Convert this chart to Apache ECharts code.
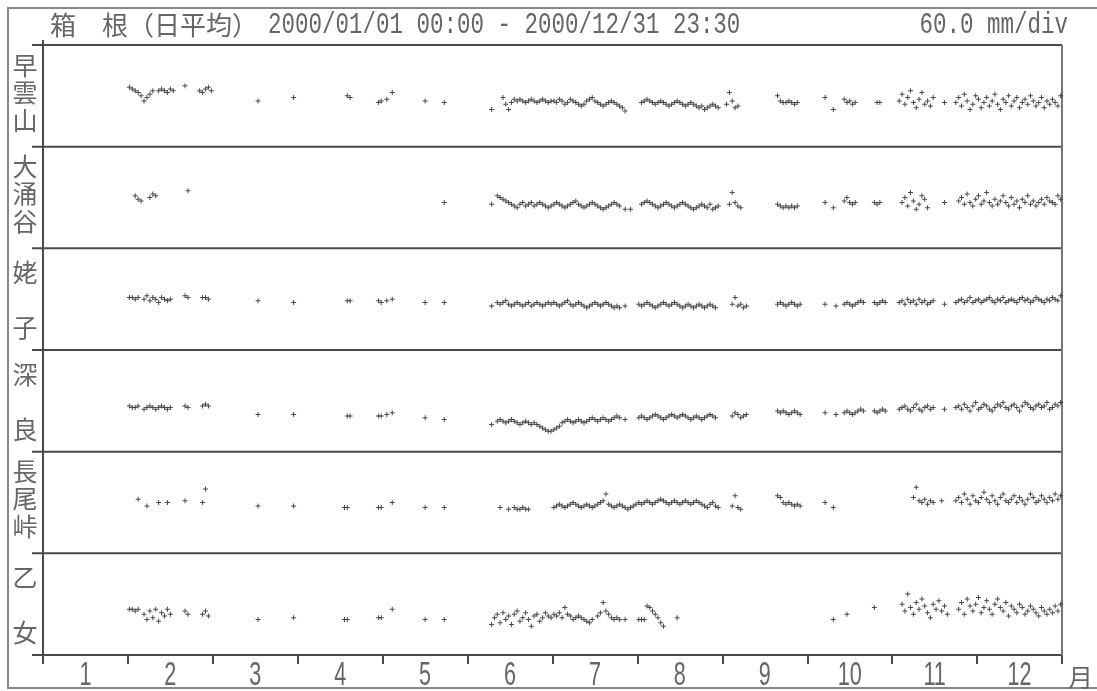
<!DOCTYPE html>
<html><head><meta charset="utf-8">
<script src="https://cdn.jsdelivr.net/npm/echarts@6/dist/echarts.min.js"></script>
<style>html,body{margin:0;padding:0;background:#fff}#c{width:1097px;height:691px}</style>
</head><body><div id="c"></div>
<script>
// ---- data ----
const monthLabels = ['1','2','3','4','5','6','7','8','9','10','11','12'];
const daysInMonth = [31,29,31,30,31,30,31,31,30,31,30,31];
const stationNames = [['早','雲','山'],['大','涌','谷'],['姥','','子'],['深','','良'],['長','尾','峠'],['乙','','女']];
const titleCJK = '箱　根（日平均）';
const titleRange = '2000/01/01 00:00 - 2000/12/31 23:30';
const unitText = '60.0 mm/div';
const axisUnit = '月';
// segments: [month, startDay, [consecutive daily values in mm]]
const sounzan = [
 [2,1,[35,34,33,32,30,27,29,31,33]],[2,11,[33,34,33,32,34,33]],[2,20,[36]],[2,25,[33,32,34,35,33]],
 [3,17,[27]],[3,30,[29]],[4,18,[30,29]],[4,29,[26,27]],[5,2,[28]],[5,4,[32]],[5,16,[27]],[5,23,[26]],
 [6,9,[22]],[6,13,[29,25,22,26,28,27,28,27,26,27,28,27,26,27,28,27,26,27]],
 [7,1,[27,26,28,27,25,26,28,27,26,25,24,25,27,28,29,27,26,25,24,25,26,27,26,25,24,23]],[7,27,[21]],
 [8,2,[26,27,28,27,26,25,26,27,26,25,24,25,26,27,26,25,24,25,26,25,24,23,24,22,23,24,25,24,23]],
 [9,2,[25,32,27,23,24]],[9,20,[30,27,26,26,27,26,25,26]],
 [10,7,[29]],[10,10,[22]],[10,14,[28,26,27,25,26]],[10,26,[26,26]],
 [11,3,[27,31,25,29,33,26,23,28,32,25,27,24,29]],[11,19,[26]],
 [11,23,[26,29,24,31,27,22,25,30,28,23,26,29,24,27,31,25,22,28,26,30,24,27,29,23,26,28,25,30,27,24,26,29,23,27,25,28,26,24,30]]
];
const owakudani = [
 [2,3,[31,29,28]],[2,8,[30,32,31]],[2,21,[34]],[5,23,[27]],[6,9,[26]],
 [6,11,[31,30,29,28,27,26,25,24,26,27,25,26,27,25,26,27,26,25,24,25]],
 [7,1,[26,27,26,25,24,25,26,27,28,26,25,24,25,26,27,26,25,24,23,24,25,26,27,26,25]],[7,27,[23]],[7,29,[23]],
 [8,2,[26,27,28,27,26,25,24,25,26,27,26,25,24,25,26,27,26,25,24,23,24,25,26,25,24,26,23,24,25]],
 [9,3,[26,33,27,25,24]],[9,20,[26,25,24,25,24,25,24,25]],
 [10,7,[27]],[10,10,[24]],[10,14,[28,30,27,26,27]],[10,25,[27,26,27]],
 [11,4,[27,30,25,33,28,23,26,31,29,24]],[11,19,[27]],
 [11,24,[28,30,26,32,27,25,29,31,26,28,33,27,25,29,26,28,31,27,25,30,26,28,24,29,27,31,26,28,25,27,29,26,30,28,27,26,31,29]]
];
const ubako = [
 [2,1,[31,31,30,31]],[2,6,[30,32,29,31,30,28,31,30,29,30]],[2,20,[32,31]],[2,26,[31,31,30]],
 [3,17,[29]],[3,30,[28]],[4,18,[29,29]],[4,29,[29,28]],[5,2,[29]],[5,4,[30]],[5,16,[28]],[5,23,[28]],
 [6,9,[26]],[6,11,[28,27,28,29,27,26,27,28,27,26,27,28,26,27,28,27,26,27,28,27]],
 [7,1,[28,27,26,27,28,29,27,26,27,28,27,26,25,26,27,28,27,26,27,28,27,26,25,26,25]],[7,27,[26]],
 [8,1,[27,26,27,28,27,26,25,26,27,28,27,26,27,28,27,26,25,26,27,26,25,26,27,26,25,26,27,26,25]],
 [9,4,[27,31,26,27,25,26]],[9,20,[27,28,27,26,27,28,27,26,27]],
 [10,7,[27]],[10,11,[26]],[10,14,[27,28,27,26,27,28,29,28]],[10,25,[28,27,28,29,28]],
 [11,3,[28,29,27,30,28,29,27,30,28,29,27,28,29]],[11,19,[27]],
 [11,23,[28,29,30,28,29,31,28,29,30,28,29,30,31,29,28,30,29,31,28,29,30,29,28,30,31,29,30,28,29,31,30,29,28,30,29,31,30,29,32]]
];
const fukara = [
 [2,1,[27,26,26,27]],[2,6,[25,26,27,26,25,26,27,26,25,26]],[2,20,[27,26]],[2,26,[27,28,27]],
 [3,17,[22]],[3,30,[22]],[4,18,[21,21]],[4,29,[21,21]],[5,2,[22]],[5,4,[23]],[5,16,[20]],[5,23,[19]],
 [6,9,[16]],[6,11,[18,19,18,17,18,19,18,17,16,17,18,17,16,17,16,15,14,13,12,12]],
 [7,1,[13,14,15,17,18,19,18,17,18,19,18,17,18,19,20,19,18,19,20,19,18,19,20,21,20]],[7,27,[19]],
 [8,1,[20,21,20,19,20,21,22,21,20,19,20,21,22,21,20,21,22,21,20,19,20,21,20,19,20,21,22,21,20]],
 [9,4,[21,23,22,20,21,22]],[9,20,[24,23,24,23,22,23,24,23,22]],
 [10,7,[23]],[10,11,[22]],[10,14,[23,24,23,22,23,24,25,24]],[10,25,[24,23,24,25,24]],
 [11,3,[25,26,27,25,24,26,28,25,24,26,27,25,26]],[11,19,[25]],
 [11,23,[26,27,25,28,26,24,27,29,25,26,28,27,25,24,26,28,27,29,26,25,27,28,26,24,27,29,28,26,25,27,28,26,27,29,25,26,28,27,29]]
];
const nagaotoge = [
 [2,4,[32]],[2,7,[28]],[2,11,[30]],[2,14,[30]],[2,20,[31]],[2,26,[30,38]],
 [3,17,[28]],[3,30,[28]],[4,17,[27,27]],[4,29,[27,27]],[5,4,[30]],[5,16,[27]],[5,23,[27]],
 [6,12,[27]],[6,15,[26]],[6,17,[27,26,26,27,26,26]],
 [7,1,[27,28,29,28,27,28,29,30,29,28,27,28,29,28,27,28,29,30,31,35,29,28,27,28,29,28,27,26,27,28,29]],
 [8,1,[30,29,30,31,30,29,30,31,32,31,30,29,30,31,30,29,30,31,30,29,30,31,30,29,28,27,29,30,28,27]],
 [9,4,[28,34,27,26]],[9,20,[34,33,30,29,30,29,28,29,28]],
 [10,7,[30]],[10,10,[27]],
 [11,8,[33,39,31,30,32,29,31,30]],[11,18,[31]],
 [11,23,[31,33,30,35,32,29,34,31,30,33,36,32,30,34,31,29,33,35,31,30,32,34,30,33,31,29,32,35,33,30,31,34,32,30,33,31,35,32,34]]
];
const otome = [
 [2,1,[27,27,26,27]],[2,6,[24,21,26,22,27,20,25,23,27,24]],[2,20,[26,24]],[2,26,[24,26,23]],
 [3,17,[21]],[3,30,[22]],[4,17,[21,21]],[4,29,[22,22]],[5,4,[27]],[5,16,[21]],[5,23,[21]],
 [6,9,[18]],[6,10,[22,24,19,25,21,23,18,24,26,20,22,25,21,17,23,24,20,22,25,23,22]],
 [7,1,[24,23,25,22,28,24,23,21,22,23,22,21,20,19,21]],[7,17,[23,25,31,26,24,22,21,22,21]],[7,27,[21]],
 [8,1,[21,21,21,29,28,26,24,22,19,17]],[8,15,[22]],
 [10,10,[21]],[10,15,[24]],[10,25,[28]],
 [11,4,[30,26,36,28,24,31,27,33,29,25,22,30,27,32,26,29,24]],
 [11,24,[27,31,24,33,29,26,30,34,25,28,32,27,24,30,33,28,26,31,23,29,27,25,30,28,24,26,29,27,25,23,28,26,24,27,25,29,26,30]]
];
const stationData = [sounzan, owakudani, ubako, fukara, nagaotoge, otome];

// ---- layout ----
const PANEL_TOP = 45, PANEL_H = 101.67, LEFT = 43, RIGHT_X = 1062;
const CJK = "'Noto Sans CJK JP',sans-serif";
const MONO = "'Liberation Mono','DejaVu Sans Mono',monospace";
const SANS = "'Liberation Sans','Noto Sans',sans-serif";
const INK = '#4a4a4a', TXT = '#666';

function toPoints(segs){
  const pts=[];
  segs.forEach(([m,d0,vals])=>{
    let mm=m, d=d0;
    vals.forEach(v=>{
      while(d>daysInMonth[mm-1]){ d-=daysInMonth[mm-1]; mm++; }
      pts.push([(mm-1)+(d-0.5)/daysInMonth[mm-1], v]);
      d++;
    });
  });
  return pts;
}
const plusPath = 'path://M2,0H3V2H5V3H3V5H2V3H0V2H2Z';

const grid=[],xAxis=[],yAxis=[],series=[],graphic=[];
stationData.forEach((segs,i)=>{
  grid.push({left:LEFT,width:RIGHT_X-LEFT,top:PANEL_TOP+i*PANEL_H,height:PANEL_H,containLabel:false});
  xAxis.push({type:'value',gridIndex:i,min:0,max:12,show:false});
  yAxis.push({type:'value',gridIndex:i,min:0,max:60,show:false});
  series.push({type:'scatter',xAxisIndex:i,yAxisIndex:i,data:toPoints(segs),symbol:plusPath,symbolSize:5,
    itemStyle:{color:'#2a2a2a',opacity:0.85},silent:true,animation:false});
});
xAxis.push({type:'category',gridIndex:5,data:monthLabels,position:'bottom',boundaryGap:true,
  axisLine:{show:false},
  axisTick:{show:true,inside:false,length:9,interval:0,lineStyle:{color:INK,width:2}},
  axisLabel:{show:false}});

const chart=echarts.init(document.getElementById('c'),null,{renderer:'canvas'});
chart.setOption({backgroundColor:'#fff',animation:false,grid,xAxis,yAxis,series});

// frame and separators
graphic.push({type:'rect',shape:{x:8,y:8,width:1100,height:680},style:{fill:null,stroke:'#888',lineWidth:2},silent:true});
for(let i=0;i<=6;i++){
  const y=PANEL_TOP+i*PANEL_H;
  graphic.push({type:'line',shape:{x1:32,y1:y,x2:RIGHT_X,y2:y},style:{stroke:INK,lineWidth:2},silent:true});
}
graphic.push({type:'line',shape:{x1:LEFT,y1:PANEL_TOP-5,x2:LEFT,y2:PANEL_TOP+6*PANEL_H+6},style:{stroke:INK,lineWidth:2},silent:true});
graphic.push({type:'line',shape:{x1:RIGHT_X,y1:PANEL_TOP,x2:RIGHT_X,y2:PANEL_TOP+6*PANEL_H},style:{stroke:'#777',lineWidth:2},silent:true});
// station labels
stationNames.forEach((chars,i)=>{
  const top=PANEL_TOP+i*PANEL_H;
  const offs = chars[1] ? [20,47,75] : [24,0,79];
  chars.forEach((ch,k)=>{ if(!ch) return;
    graphic.push({type:'text',x:25,y:top+offs[k],style:{text:ch,fontSize:25,fill:TXT,fontFamily:CJK,align:'center',verticalAlign:'middle'},silent:true});
  });
});
// month labels, positioned via the category axis scale
const labelY = PANEL_TOP+6*PANEL_H+21;
monthLabels.forEach(lbl=>{
  const x = chart.convertToPixel({xAxisIndex:6}, lbl);
  graphic.push({type:'text',x:x,y:labelY,scaleX:0.72,scaleY:1.08,style:{text:lbl,fontSize:30,fill:TXT,fontFamily:SANS,align:'center',verticalAlign:'middle'},silent:true});
});
graphic.push({type:'text',x:1068,y:labelY+1,style:{text:axisUnit,fontSize:25,fill:TXT,fontFamily:CJK,align:'left',verticalAlign:'middle'},silent:true});
// title
graphic.push({type:'text',x:50,y:25,style:{text:titleCJK,fontSize:26,fill:TXT,fontFamily:CJK,align:'left',verticalAlign:'middle'},silent:true});
graphic.push({type:'text',x:268,y:25,scaleX:0.865,scaleY:1.15,style:{text:titleRange,fontSize:26,fill:TXT,fontFamily:MONO,align:'left',verticalAlign:'middle'},silent:true});
graphic.push({type:'text',x:1068,y:25,scaleX:0.865,scaleY:1.15,style:{text:unitText,fontSize:26,fill:TXT,fontFamily:MONO,align:'right',verticalAlign:'middle'},silent:true});

chart.setOption({graphic});
</script></body></html>
